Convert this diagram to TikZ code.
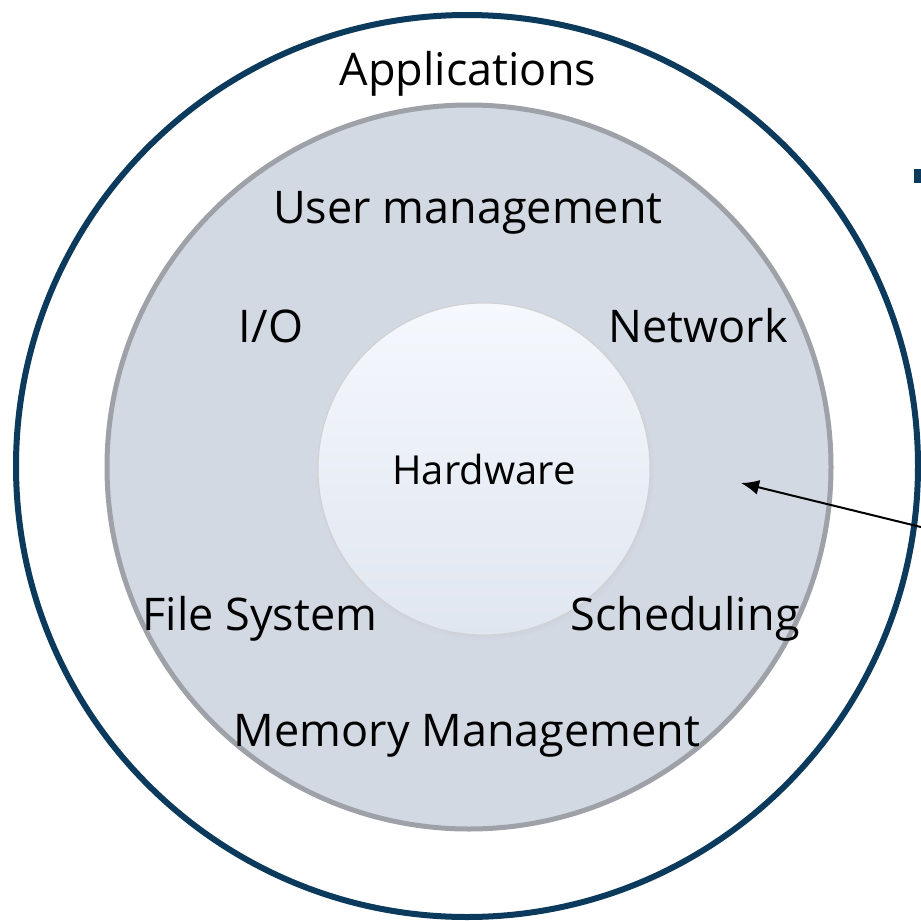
\documentclass[tikz,border=0pt]{standalone}
\usepackage{fontspec}
\setmainfont{Open Sans}
\usetikzlibrary{shadows,arrows.meta}

\definecolor{ringblue}{HTML}{0B3A5C}
\definecolor{kernelgray}{HTML}{D3D9E3}
\definecolor{kernelrim}{HTML}{9EA2A8}
\definecolor{hwtop}{HTML}{F5F8FD}
\definecolor{hwbottom}{HTML}{E0E6F0}

\begin{document}
\begin{tikzpicture}[
  x=1pt, y=-1pt,
  every node/.style={font=\fontsize{45}{54}\selectfont},
  ring/.style={shape=circle, inner sep=0pt, minimum size=#1},
  layer/.style={anchor=base, inner sep=0pt},
  pointer/.style={draw, line width=2pt, -{Latex[length=18pt,width=15pt]}}
]
\useasboundingbox (0,0) rectangle (921,921);
\clip (0,0) rectangle (921,921);
% rings
\node [ring=902pt, draw=ringblue, line width=6pt] (apps) at (467,466) {};
\node [ring=724pt, draw=kernelrim, fill=kernelgray, line width=5pt] (kernel) at (469,467) {};
\node [ring=332pt, draw=black!18, line width=1pt, top color=hwtop, bottom color=hwbottom,
  circular drop shadow={shadow xshift=1pt, shadow yshift=-2pt, opacity=0.25, shadow scale=1.02}] (hw) at (484,469) {};
% labels
\node [layer] (lapps) at (468,85) {Applications};
\node [layer] (luser) at (468,223) {User management};
\node [layer] (lio) at (271,342) {I/O};
\node [layer] (lnet) at (698,342) {Network};
\node [layer, font=\fontsize{40}{48}\selectfont] (lhw) at (484,484) {Hardware};
\node [layer] (lfs) at (260,630) {File System};
\node [layer] (lsched) at (685,630) {Scheduling};
\node [layer] (lmem) at (467,746) {Memory Management};
% cut-off mark at the right edge
\fill [ringblue] (914,169) rectangle (925,183);
% arrow into the kernel ring
\coordinate (from) at (925,528);
\coordinate (to) at (741,483);
\draw [pointer] (from) -- (to);
\end{tikzpicture}
\end{document}
